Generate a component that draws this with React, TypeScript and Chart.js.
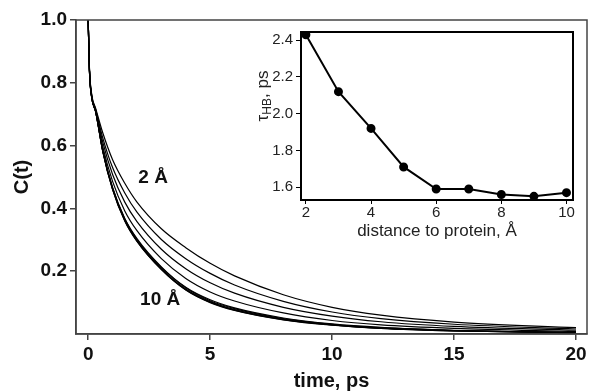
import React, { useEffect, useRef } from "react";
import { Chart, registerables } from "chart.js";
Chart.register(...registerables);

// ---- Main panel data: C(t) decay curves for distances 2..10 Å ----
const timePs = [0, 0.05, 0.15, 0.3, 0.6, 1, 1.5, 2, 3, 4, 5, 6, 8, 10, 12, 15, 20];
const c2A = [1.0, 0.85, 0.76, 0.72, 0.64, 0.555, 0.48, 0.42, 0.335, 0.275, 0.225, 0.185, 0.125, 0.085, 0.06, 0.038, 0.02];
const c3A = [1.0, 0.847, 0.757, 0.717, 0.624, 0.53, 0.449, 0.388, 0.301, 0.24, 0.193, 0.156, 0.104, 0.07, 0.049, 0.031, 0.016];
const c4A = [1.0, 0.845, 0.755, 0.715, 0.61, 0.508, 0.42, 0.358, 0.27, 0.208, 0.163, 0.13, 0.085, 0.057, 0.039, 0.024, 0.012];
const c5A = [1.0, 0.843, 0.753, 0.713, 0.596, 0.486, 0.392, 0.329, 0.24, 0.177, 0.134, 0.105, 0.067, 0.043, 0.029, 0.018, 0.008];
const c6A = [1.0, 0.841, 0.751, 0.711, 0.584, 0.467, 0.368, 0.304, 0.214, 0.149, 0.109, 0.083, 0.051, 0.032, 0.021, 0.012, 0.005];
const c7A = [1.0, 0.84, 0.75, 0.71, 0.583, 0.465, 0.366, 0.301, 0.212, 0.147, 0.106, 0.081, 0.049, 0.031, 0.02, 0.011, 0.005];
const c8A = [1.0, 0.84, 0.75, 0.71, 0.582, 0.462, 0.363, 0.298, 0.208, 0.143, 0.103, 0.078, 0.047, 0.029, 0.019, 0.011, 0.004];
const c9A = [1.0, 0.84, 0.75, 0.71, 0.581, 0.461, 0.361, 0.296, 0.206, 0.141, 0.101, 0.076, 0.046, 0.029, 0.018, 0.01, 0.004];
const c10A = [1.0, 0.84, 0.75, 0.71, 0.58, 0.46, 0.36, 0.295, 0.205, 0.14, 0.1, 0.075, 0.045, 0.028, 0.018, 0.01, 0.004];
const mainCurves = [c2A, c3A, c4A, c5A, c6A, c7A, c8A, c9A, c10A];
const mainXTicks = [0, 5, 10, 15, 20];
const mainYTicks = [0.2, 0.4, 0.6, 0.8, 1.0];
const curveLabelTexts = ["2 Å", "10 Å"];
const mainXTitle = "time, ps";
const mainYTitle = "C(t)";

// ---- Inset data: tau_HB vs distance ----
const distances = [2, 3, 4, 5, 6, 7, 8, 9, 10];
const tauHB = [2.43, 2.12, 1.92, 1.71, 1.59, 1.59, 1.56, 1.55, 1.57];
const insetXTicks = [2, 4, 6, 8, 10];
const insetYTicks = [1.6, 1.8, 2.0, 2.2, 2.4];
const insetXTitle = "distance to protein, Å";
const insetYTitleParts = ["τ", "HB", ", ps"];

const FONT = '"Liberation Sans", Arial, Helvetica, sans-serif';

const noPad = (s: any) => {
  s.paddingLeft = 0;
  s.paddingRight = 0;
  s.paddingTop = 0;
  s.paddingBottom = 0;
};

const mainPlugin = {
  id: "mainFrame",
  afterDraw(chart: any) {
    const { ctx, chartArea: a } = chart;
    const xs = chart.scales.x;
    const ys = chart.scales.y;
    ctx.save();
    ctx.strokeStyle = "#444";
    ctx.lineWidth = 1.5;
    ctx.strokeRect(a.left, a.top, a.right - a.left, a.bottom - a.top);
    ctx.fillStyle = "#111";
    ctx.font = `bold 19px ${FONT}`;
    ctx.textAlign = "center";
    ctx.textBaseline = "middle";
    ctx.fillText(curveLabelTexts[0], xs.getPixelForValue(2.66), ys.getPixelForValue(0.497));
    ctx.fillText(curveLabelTexts[1], xs.getPixelForValue(2.95), ys.getPixelForValue(0.108));
    ctx.restore();
  },
};

const insetPlugin = {
  id: "insetFrame",
  afterDraw(chart: any) {
    const { ctx, chartArea: a } = chart;
    ctx.save();
    ctx.strokeStyle = "#000";
    ctx.lineWidth = 2;
    ctx.strokeRect(a.left, a.top, a.right - a.left, a.bottom - a.top);
    const big = `17px ${FONT}`;
    const small = `12px ${FONT}`;
    ctx.font = big;
    const w0 = ctx.measureText(insetYTitleParts[0]).width;
    const w2 = ctx.measureText(insetYTitleParts[2]).width;
    ctx.font = small;
    const w1 = ctx.measureText(insetYTitleParts[1]).width;
    const total = w0 + w1 + w2;
    ctx.translate(a.left - 38, a.top + 64);
    ctx.rotate(-Math.PI / 2);
    ctx.fillStyle = "#222";
    ctx.textBaseline = "middle";
    ctx.textAlign = "left";
    let x = -total / 2;
    ctx.font = big;
    ctx.fillText(insetYTitleParts[0], x, 0);
    x += w0;
    ctx.font = small;
    ctx.fillText(insetYTitleParts[1], x, 5);
    x += w1;
    ctx.font = big;
    ctx.fillText(insetYTitleParts[2], x, 0);
    ctx.restore();
  },
};

export default function App() {
  const mainRef = useRef<HTMLCanvasElement>(null);
  const insetRef = useRef<HTMLCanvasElement>(null);

  useEffect(() => {
    const main = new Chart(mainRef.current!, {
      type: "line",
      data: {
        datasets: mainCurves.map((arr, k) => ({
          label: `${distances[k]} Å`,
          data: timePs.map((t, i) => ({ x: t, y: arr[i] })),
          borderColor: "#000",
          borderWidth: 1.2,
          pointRadius: 0,
          fill: false,
          cubicInterpolationMode: "monotone" as const,
        })),
      },
      options: {
        animation: false,
        responsive: false,
        layout: { padding: { top: 20, right: 3, left: 0, bottom: 0 } },
        plugins: { legend: { display: false }, tooltip: { enabled: false } },
        scales: {
          x: {
            type: "linear",
            min: -0.5,
            max: 20.45,
            afterBuildTicks: (s: any) => {
              s.ticks = mainXTicks.map((v) => ({ value: v }));
            },
            afterFit: (s: any) => {
              s.height = 57;
              noPad(s);
            },
            grid: { display: true, drawOnChartArea: false, drawTicks: true, tickLength: 6, color: "#444", lineWidth: 1.5 },
            border: { display: true, color: "#444", width: 1.5 },
            ticks: { color: "#111", font: { family: FONT, size: 19, weight: "bold" }, padding: 3, maxRotation: 0 },
            title: { display: true, text: mainXTitle, color: "#111", font: { family: FONT, size: 20, weight: "bold" }, padding: { top: 0, bottom: -2 } },
          },
          y: {
            type: "linear",
            min: 0,
            max: 1.0,
            afterBuildTicks: (s: any) => {
              s.ticks = mainYTicks.map((v) => ({ value: v }));
            },
            afterFit: (s: any) => {
              s.width = 76;
              noPad(s);
            },
            grid: { display: true, drawOnChartArea: false, drawTicks: true, tickLength: 6, color: "#444", lineWidth: 1.5 },
            border: { display: true, color: "#444", width: 1.5 },
            ticks: { color: "#111", font: { family: FONT, size: 19, weight: "bold" }, padding: 3, callback: (v: any) => Number(v).toFixed(1) },
            title: { display: true, text: mainYTitle, color: "#111", font: { family: FONT, size: 20, weight: "bold" }, padding: { top: 10, bottom: 0 } },
          },
        },
      },
      plugins: [mainPlugin],
    });

    const inset = new Chart(insetRef.current!, {
      type: "line",
      data: {
        datasets: [
          {
            label: "tauHB",
            data: distances.map((d, i) => ({ x: d, y: tauHB[i] })),
            borderColor: "#000",
            borderWidth: 2,
            pointRadius: 3.5,
            pointBackgroundColor: "#000",
            pointBorderColor: "#000",
            tension: 0,
          },
        ],
      },
      options: {
        animation: false,
        responsive: false,
        layout: { padding: { top: 7, right: 7, left: 0, bottom: 0 } },
        plugins: { legend: { display: false }, tooltip: { enabled: false } },
        scales: {
          x: {
            type: "linear",
            min: 1.85,
            max: 10.2,
            afterBuildTicks: (s: any) => {
              s.ticks = insetXTicks.map((v) => ({ value: v }));
            },
            afterFit: (s: any) => {
              s.height = 50;
              noPad(s);
            },
            grid: { display: true, drawOnChartArea: false, drawTicks: true, tickLength: 4, color: "#000", lineWidth: 1 },
            border: { display: true, color: "#000", width: 2 },
            ticks: { color: "#222", font: { family: FONT, size: 15 }, padding: 0, maxRotation: 0 },
            title: { display: true, text: insetXTitle, color: "#222", font: { family: FONT, size: 17 }, padding: { top: 0, bottom: 8 } },
          },
          y: {
            type: "linear",
            min: 1.53,
            max: 2.445,
            afterBuildTicks: (s: any) => {
              s.ticks = insetYTicks.map((v) => ({ value: v }));
            },
            afterFit: (s: any) => {
              s.width = 56;
              noPad(s);
            },
            grid: { display: true, drawOnChartArea: false, drawTicks: true, tickLength: 5, color: "#000", lineWidth: 1 },
            border: { display: true, color: "#000", width: 2 },
            ticks: { color: "#222", font: { family: FONT, size: 15 }, padding: 3, callback: (v: any) => Number(v).toFixed(1) },
          },
        },
      },
      plugins: [insetPlugin],
    });

    return () => {
      main.destroy();
      inset.destroy();
    };
  }, []);

  return (
    <div style={{ position: "absolute", left: 0, top: 0, width: 590, height: 391, background: "#fff" }}>
      <canvas ref={mainRef} width={590} height={391} style={{ position: "absolute", left: 0, top: 0 }} />
      <canvas ref={insetRef} width={335} height={225} style={{ position: "absolute", left: 245, top: 25 }} />
    </div>
  );
}
